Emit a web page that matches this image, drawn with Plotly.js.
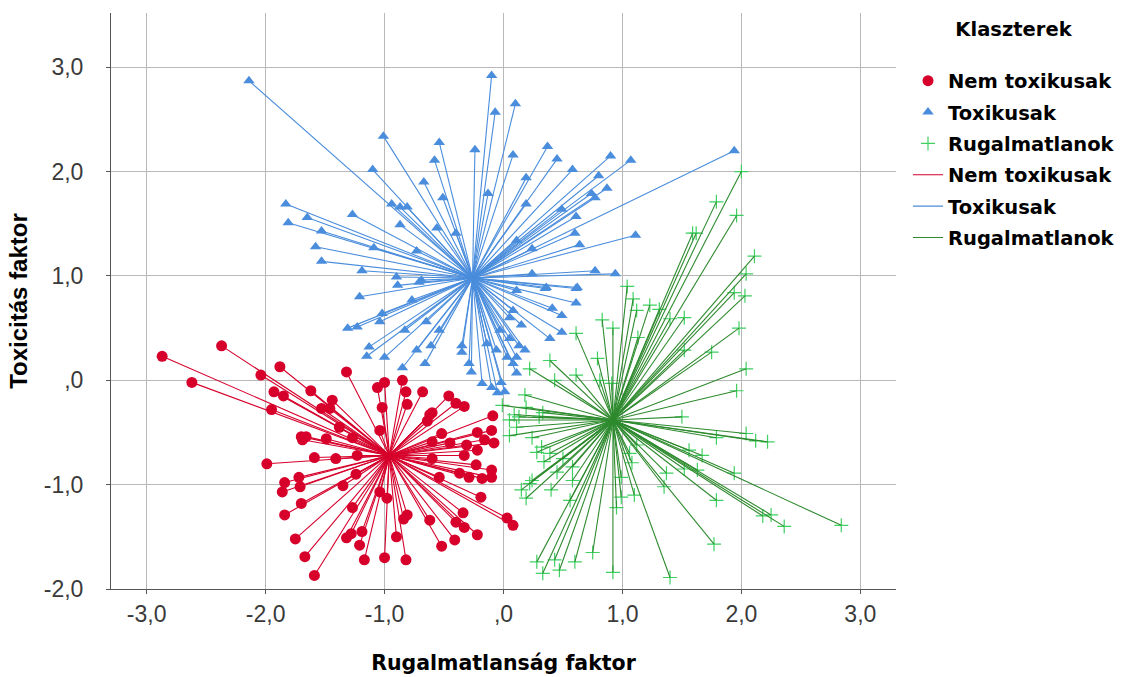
<!DOCTYPE html>
<html>
<head>
<meta charset="utf-8">
<script src="https://cdn.plot.ly/plotly-3.0.1.min.js"></script>
<style>html,body{margin:0;padding:0;background:#fff;}#chart{width:1131px;height:677px;}</style>
</head>
<body>
<div id="chart"></div>
<script>
// Cluster names (legend)
const clusterNames = ["Nem toxikusak", "Toxikusak", "Rugalmatlanok"];

// Cluster centroids [x, y]
const centroidRed = [-0.96, -0.72];
const centroidBlue = [-0.26, 0.98];
const centroidGreen = [0.92, -0.38];

// Nem toxikusak (red) points
const redX = [-2.87,-2.37,-2.62,-2.04,-1.88,-1.93,-1.85,-1.95,-1.62,-1.44,-1.53,-1.46,-1.32,-1.38,-1.70,-1.66,-1.69,-1.49,-1.27,-1.59,-1.41,-1.23,-1.99,-1.72,-1.84,-1.86,-1.71,-1.35,-1.24,-1.70,-1.84,-1.27,-1.75,-1.67,-1.59,-1.32,-1.28,-1.21,-1.19,-1.17,-1.00,-1.06,-0.85,-0.82,-0.68,-1.02,-0.81,-0.46,-0.40,-0.33,-0.62,-0.60,-0.09,-0.64,-1.04,-0.52,-0.22,-0.10,-0.60,-0.45,-0.31,-0.22,-0.08,-0.16,-0.33,-0.60,-0.23,-0.10,-0.10,-0.29,-0.37,-0.54,-0.18,-0.19,-1.04,-0.98,-0.81,-0.84,-0.62,-0.34,-0.40,-0.33,0.03,0.08,-0.22,-0.41,-0.52,-0.90,-1.00,-0.82];
const redY = [0.23,0.33,-0.02,0.05,0.13,-0.11,-0.15,-0.28,-0.10,-0.19,-0.27,-0.27,0.08,-0.45,-0.54,-0.54,-0.57,-0.56,-0.55,-0.74,-0.75,-0.72,-0.80,-0.93,-0.98,-1.07,-1.02,-1.01,-0.90,-1.18,-1.29,-1.22,-1.52,-1.69,-1.87,-1.51,-1.47,-1.58,-1.45,-1.72,-0.02,-0.07,0.00,-0.11,-0.11,-0.26,-0.23,-0.15,-0.22,-0.25,-0.33,-0.31,-0.34,-0.39,-0.48,-0.51,-0.50,-0.48,-0.59,-0.60,-0.62,-0.67,-0.60,-0.57,-0.72,-0.75,-0.81,-0.86,-0.93,-0.93,-0.89,-0.93,-0.94,-1.12,-1.07,-1.13,-1.29,-1.33,-1.34,-1.27,-1.36,-1.41,-1.32,-1.39,-1.48,-1.53,-1.59,-1.50,-1.70,-1.72];

// Toxikusak (blue) points
const blueX = [-2.14,-1.01,-0.54,-0.24,-0.58,-1.10,-0.67,-0.51,-1.83,-0.94,-0.87,-0.81,-1.27,-1.65,-1.81,-0.87,-0.56,-1.53,-0.40,-1.58,-1.09,-0.73,-1.53,-1.19,-0.90,-0.69,-0.10,0.10,-0.07,0.08,0.37,0.45,0.90,1.07,0.58,0.80,0.19,0.87,0.74,0.77,-0.13,0.19,0.49,0.61,0.60,1.11,0.64,0.24,0.11,0.77,0.94,0.24,0.35,0.61,0.11,1.94,-0.71,-1.21,-0.89,-0.77,-1.02,-1.04,-1.31,-1.23,-0.83,-0.65,-0.54,-1.13,-1.15,-1.00,-0.73,-0.66,-0.85,-0.61,-0.35,-0.35,-0.29,-0.27,-0.18,-0.10,-0.05,-0.02,-0.14,-0.06,0.03,0.08,0.11,-0.03,0.05,0.13,0.05,0.15,0.08,0.36,0.62,0.61,0.41,0.49,0.49,0.39,0.18,0.11,0.01];
const blueY = [2.87,2.34,2.28,2.21,2.11,2.02,1.90,1.75,1.69,1.69,1.66,1.66,1.59,1.56,1.51,1.49,1.46,1.43,1.41,1.28,1.27,1.24,1.14,1.05,0.99,0.96,2.92,2.65,2.57,2.16,2.24,2.12,2.15,2.11,2.02,1.96,1.94,1.84,1.79,1.75,1.79,1.69,1.64,1.57,1.41,1.39,1.30,1.26,1.34,1.05,1.02,1.02,0.88,0.88,0.86,2.20,0.94,0.80,0.91,0.77,0.64,0.56,0.50,0.51,0.48,0.56,0.48,0.32,0.23,0.22,0.29,0.16,0.12,0.33,0.33,0.27,0.16,0.08,-0.03,-0.07,-0.12,-0.02,0.35,0.29,0.22,0.16,0.07,0.48,0.40,0.33,0.60,0.53,0.67,0.89,0.89,0.74,0.69,0.62,0.46,0.40,0.29,0.22,-0.11];

// Rugalmatlanok (green) points
const greenX = [1.04,1.09,0.83,0.92,0.61,1.13,0.39,0.79,0.22,0.61,0.43,0.18,-0.01,0.13,0.30,0.11,0.05,0.24,0.32,0.39,0.28,0.50,0.58,0.24,0.40,0.19,0.56,0.99,0.95,0.75,0.28,0.33,0.47,0.60,0.92,0.43,1.12,1.06,0.99,2.00,1.79,1.96,1.62,2.11,2.04,1.94,2.03,1.31,1.40,1.52,1.98,1.75,1.52,2.04,1.96,1.50,2.04,2.12,2.22,1.79,1.56,1.67,1.94,1.63,1.52,1.37,1.08,1.10,1.35,1.79,2.18,2.25,2.36,2.84,1.77,1.40,0.09,0.05,0.19,0.33,0.34,0.45,0.22,0.15,0.58,0.91,0.81,1.12,1.59,1.23];
const greenY = [0.90,0.78,0.58,0.50,0.45,0.41,0.19,0.21,0.11,0.05,0.00,-0.14,-0.24,-0.35,-0.35,-0.45,-0.53,-0.55,-0.64,-0.70,-0.69,-0.75,-0.83,-0.96,-1.05,-1.13,-1.15,-1.12,-1.22,-1.65,-1.74,-1.85,-1.82,-1.74,-1.84,-1.72,-0.62,-0.70,-0.93,2.00,1.71,1.58,1.41,1.19,1.02,0.84,0.81,0.68,0.59,0.60,0.50,0.27,0.29,0.11,-0.10,-0.35,-0.51,-0.58,-0.59,-0.55,-0.67,-0.72,-0.89,-0.86,-0.85,-0.89,-0.79,-1.10,-1.02,-1.15,-1.30,-1.29,-1.40,-1.39,-1.57,-1.89,-0.33,-0.38,-0.26,-0.31,-0.78,-0.88,-0.99,-1.05,-0.96,-0.03,0.00,0.67,1.41,0.72];

// Tick labels
const xTickVals = [-3, -2, -1, 0, 1, 2, 3];
const xTickText = ["-3,0", "-2,0", "-1,0", ",0", "1,0", "2,0", "3,0"];
const yTickVals = [-2, -1, 0, 1, 2, 3];
const yTickText = ["-2,0", "-1,0", ",0", "1,0", "2,0", "3,0"];

const colRed = "#d6002b";
const colBlue = "#4a8ddc";
const colGreenMarker = "#3fd062";
const colGreenLine = "#2e8a2e";

function spokes(c, xs, ys) {
  const lx = [], ly = [];
  for (let i = 0; i < xs.length; i++) {
    lx.push(c[0], xs[i], null);
    ly.push(c[1], ys[i], null);
  }
  return {x: lx, y: ly};
}

const sRed = spokes(centroidRed, redX, redY);
const sBlue = spokes(centroidBlue, blueX, blueY);
const sGreen = spokes(centroidGreen, greenX, greenY);

const traces = [
  {type: "scatter", mode: "lines", x: sRed.x, y: sRed.y, name: clusterNames[0], legendrank: 4, legendgroup: "l1",
   line: {color: colRed, width: 1.1}, hoverinfo: "skip"},
  {type: "scatter", mode: "markers", x: redX, y: redY, name: clusterNames[0], legendrank: 1, legendgroup: "m1",
   marker: {symbol: "circle", size: 11, color: colRed}},
  {type: "scatter", mode: "lines", x: sBlue.x, y: sBlue.y, name: clusterNames[1], legendrank: 5, legendgroup: "l2",
   line: {color: colBlue, width: 1.1}, hoverinfo: "skip"},
  {type: "scatter", mode: "markers", x: blueX, y: blueY, name: clusterNames[1], legendrank: 2, legendgroup: "m2",
   marker: {symbol: "triangle-up", size: 10, color: colBlue}},
  {type: "scatter", mode: "markers", x: greenX, y: greenY, name: clusterNames[2], legendrank: 3, legendgroup: "m3",
   marker: {symbol: "cross-thin", size: 10, color: colGreenMarker, line: {color: colGreenMarker, width: 1.2}}},
  {type: "scatter", mode: "lines", x: sGreen.x, y: sGreen.y, name: clusterNames[2], legendrank: 6, legendgroup: "l3",
   line: {color: colGreenLine, width: 1.1}, hoverinfo: "skip"}
];

const fontFam = "Arial, 'Liberation Sans', sans-serif";
const wideBold = "'DejaVu Sans', Arial, sans-serif";

const layout = {
  width: 1131, height: 677,
  margin: {l: 111, r: 234, t: 12, b: 88},
  paper_bgcolor: "#ffffff",
  plot_bgcolor: "#ffffff",
  font: {family: fontFam, color: "#000"},
  showlegend: true,
  xaxis: {
    range: [-3.3, 3.3], tickvals: xTickVals, ticktext: xTickText,
    showgrid: true, gridcolor: "#b8b8b8", gridwidth: 1, zeroline: false,
    showline: true, linecolor: "#555", linewidth: 1,
    ticks: "outside", ticklen: 4, tickcolor: "#555",
    tickfont: {size: 23, color: "#3a3a3a"},
    title: {text: "Rugalmatlanság faktor", font: {family: wideBold, size: 20.5, color: "#000", weight: "bold"}, standoff: 30},
    automargin: false
  },
  yaxis: {
    range: [-2.0, 3.52], tickvals: yTickVals, ticktext: yTickText,
    showgrid: true, gridcolor: "#b8b8b8", gridwidth: 1, zeroline: false,
    showline: true, linecolor: "#555", linewidth: 1,
    ticks: "outside", ticklen: 4, tickcolor: "#555", ticklabelstandoff: 18,
    tickfont: {size: 23, color: "#3a3a3a"},
    title: {text: "Toxicitás faktor", font: {family: fontFam, size: 24, color: "#000", weight: "bold"}, standoff: 9},
    automargin: false
  },
  legend: {
    x: 1.014, xanchor: "left", y: 1.002, yanchor: "top",
    traceorder: "grouped", tracegroupgap: 3,
    font: {family: wideBold, size: 19.5, color: "#000", weight: "bold"},
    title: {text: "Klaszterek<br>&nbsp;", side: "top center", font: {family: wideBold, size: 19.5, color: "#000", weight: "bold"}},
    bgcolor: "rgba(255,255,255,0)"
  }
};

Plotly.newPlot("chart", traces, layout, {displayModeBar: false, staticPlot: true});
</script>
</body>
</html>
